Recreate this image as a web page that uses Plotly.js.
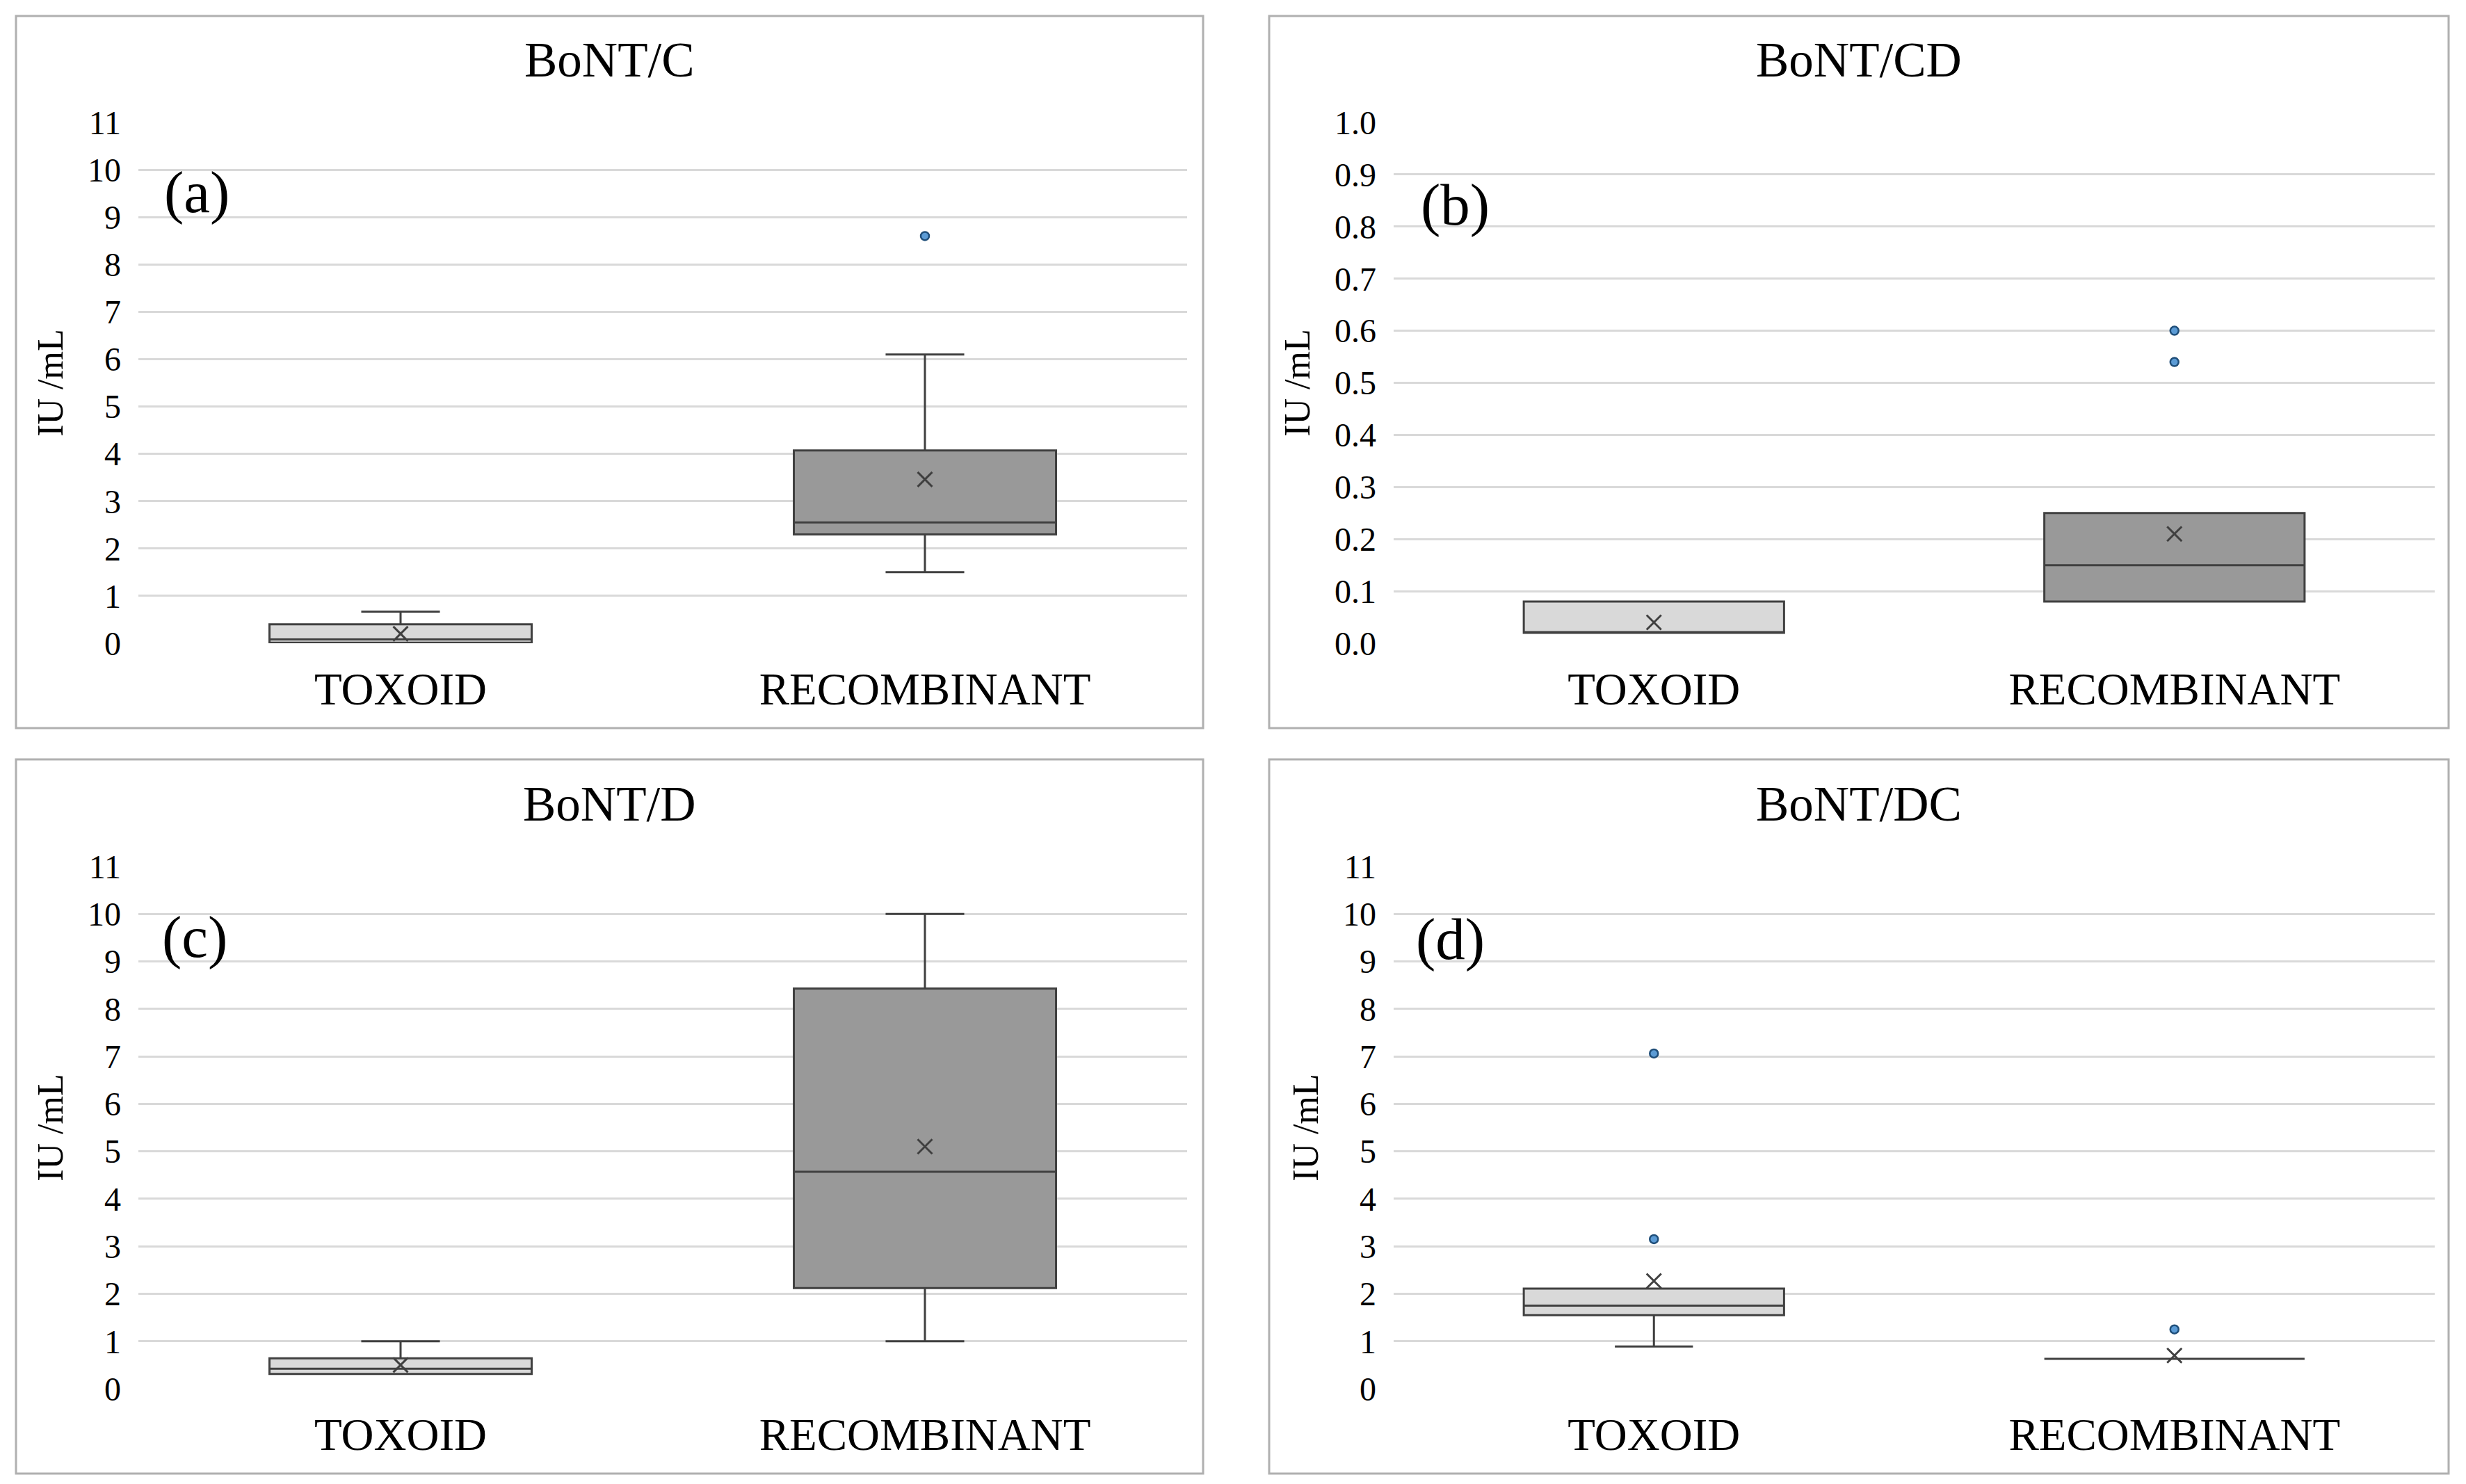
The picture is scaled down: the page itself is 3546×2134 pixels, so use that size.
<!DOCTYPE html>
<html>
<head>
<meta charset="utf-8">
<script src="https://cdn.plot.ly/plotly-3.0.1.min.js"></script>
<style>
html,body{margin:0;padding:0;background:#fff;}
#chart{width:3546px;height:2134px;}
</style>
</head>
<body>
<div id="chart"></div>
<script>
// ---------------- DATA ----------------
const categories = ['TOXOID', 'RECOMBINANT'];
const panelTitles = ['BoNT/C', 'BoNT/CD', 'BoNT/D', 'BoNT/DC'];
const panelLetters = ['(a)', '(b)', '(c)', '(d)'];
const yAxisTitle = 'IU /mL';

// [TOXOID, RECOMBINANT]
const q1_C = [0.01, 2.30];
const median_C = [0.08, 2.55];
const q3_C = [0.40, 4.07];
const lower_C = [0.01, 1.50];
const upper_C = [0.67, 6.10];
const mean_C = [0.20, 3.46];
const outliers_C = [[], [8.60]];

const q1_CD = [0.02, 0.08];
const median_CD = [0.02, 0.15];
const q3_CD = [0.08, 0.25];
const lower_CD = [0.02, 0.08];
const upper_CD = [0.08, 0.25];
const mean_CD = [0.04, 0.21];
const outliers_CD = [[], [0.60, 0.54]];

const q1_D = [0.31, 2.12];
const median_D = [0.42, 4.57];
const q3_D = [0.64, 8.43];
const lower_D = [0.31, 1.00];
const upper_D = [1.00, 10.00];
const mean_D = [0.50, 5.10];
const outliers_D = [[], []];

const q1_DC = [1.55, 0.63];
const median_DC = [1.75, 0.63];
const q3_DC = [2.11, 0.63];
const lower_DC = [0.89, 0.63];
const upper_DC = [2.11, 0.63];
const mean_DC = [2.27, 0.70];
const outliers_DC = [[7.06, 3.15], [1.25]];

const yTicks11 = [0,1,2,3,4,5,6,7,8,9,10,11];
const yTicks1 = [0,0.1,0.2,0.3,0.4,0.5,0.6,0.7,0.8,0.9,1.0];

// ---------------- BUILD ----------------
const W = 3546, H = 2134;
const FONT = '"Liberation Serif", "DejaVu Serif", serif';
const boxFill = ['#d9d9d9', '#999999'];
const lineCol = '#404040';

const panels = [
  {q1:q1_C, med:median_C, q3:q3_C, lo:lower_C, hi:upper_C, mean:mean_C, out:outliers_C, range:[0,11], ticks:yTicks11, fmt:'d'},
  {q1:q1_CD, med:median_CD, q3:q3_CD, lo:lower_CD, hi:upper_CD, mean:mean_CD, out:outliers_CD, range:[0,1], ticks:yTicks1, fmt:'.1f'},
  {q1:q1_D, med:median_D, q3:q3_D, lo:lower_D, hi:upper_D, mean:mean_D, out:outliers_D, range:[0,11], ticks:yTicks11, fmt:'d'},
  {q1:q1_DC, med:median_DC, q3:q3_DC, lo:lower_DC, hi:upper_DC, mean:mean_DC, out:outliers_DC, range:[0,11], ticks:yTicks11, fmt:'d'}
];

// pixel geometry (plot areas and panel frames)
const plotX = [[199,1707],[2004,3501],[199,1707],[2004,3501]];
const plotY = [[176,925],[176,925],[1246,1997],[1246,1997]];
const frameX = [[23,1730],[1825,3521],[23,1730],[1825,3521]];
const frameY = [[23,1047],[23,1047],[1092,2119],[1092,2119]];
const titlePos = [[876,86],[2673,86],[876,1156],[2673,1156]];
const letterPos = [[283,276],[2092,294],[280,1348],[2085,1350]];

const px = v => v / W;
const py = v => 1 - v / H;

const traces = [];
const layout = {
  width: W, height: H,
  margin: {l:0, r:0, t:0, b:0},
  paper_bgcolor: '#ffffff',
  plot_bgcolor: '#ffffff',
  showlegend: false,
  font: {family: FONT, color: '#000000'},
  shapes: [],
  annotations: []
};

panels.forEach((p, i) => {
  const n = i + 1;
  const xa = 'x' + (n === 1 ? '' : n);
  const ya = 'y' + (n === 1 ? '' : n);

  categories.forEach((cat, c) => {
    traces.push({
      type: 'box',
      xaxis: xa, yaxis: ya,
      x: [cat],
      q1: [p.q1[c]], median: [p.med[c]], q3: [p.q3[c]],
      lowerfence: [p.lo[c]], upperfence: [p.hi[c]],
      width: 0.5,
      whiskerwidth: 0.3,
      boxpoints: false,
      fillcolor: boxFill[c],
      line: {color: lineCol, width: 3},
      hoverinfo: 'skip'
    });
    // mean marker
    traces.push({
      type: 'scatter', mode: 'markers',
      xaxis: xa, yaxis: ya,
      x: [cat], y: [p.mean[c]],
      marker: {symbol: 'x-thin', size: 21, line: {color: lineCol, width: 3}},
      hoverinfo: 'skip'
    });
    // outliers
    if (p.out[c].length) {
      traces.push({
        type: 'scatter', mode: 'markers',
        xaxis: xa, yaxis: ya,
        x: p.out[c].map(() => cat), y: p.out[c],
        marker: {symbol: 'circle', size: 12, color: '#5b9bd5', line: {color: '#1f4e79', width: 2.5}},
        hoverinfo: 'skip'
      });
    }
  });

  layout['xaxis' + (n === 1 ? '' : n)] = {
    domain: [px(plotX[i][0]), px(plotX[i][1])],
    anchor: ya,
    type: 'category',
    categoryorder: 'array', categoryarray: categories,
    range: [-0.5, 1.5],
    showgrid: false, zeroline: false, showline: false,
    ticks: '', ticklabelstandoff: 22,
    tickfont: {family: FONT, size: 65, color: '#000'},
    fixedrange: true
  };
  layout['yaxis' + (n === 1 ? '' : n)] = {
    domain: [py(plotY[i][1]), py(plotY[i][0])],
    anchor: xa,
    range: p.range,
    tickmode: 'array', tickvals: p.ticks, tickformat: p.fmt,
    showgrid: true, gridcolor: '#d9d9d9', gridwidth: 3,
    zeroline: false, showline: false,
    ticks: '', ticklabelstandoff: 24,
    tickfont: {family: FONT, size: 48, color: '#000'},
    title: {text: yAxisTitle, font: {family: FONT, size: 52, color: '#000'}, standoff: 18},
    fixedrange: true
  };

  layout.shapes.push({
    type: 'rect', xref: 'paper', yref: 'paper',
    x0: px(frameX[i][0]), x1: px(frameX[i][1]),
    y0: py(frameY[i][1]), y1: py(frameY[i][0]),
    line: {color: '#b0b0b0', width: 3}, fillcolor: 'rgba(0,0,0,0)', layer: 'below'
  });

  layout.annotations.push({
    xref: 'paper', yref: 'paper',
    x: px(titlePos[i][0]), y: py(titlePos[i][1]),
    xanchor: 'center', yanchor: 'middle',
    text: panelTitles[i], showarrow: false,
    font: {family: FONT, size: 71, color: '#000'}
  });
  layout.annotations.push({
    xref: 'paper', yref: 'paper',
    x: px(letterPos[i][0]), y: py(letterPos[i][1]),
    xanchor: 'center', yanchor: 'middle',
    text: panelLetters[i], showarrow: false,
    font: {family: FONT, size: 85, color: '#000'}
  });
});

Plotly.newPlot('chart', traces, layout, {staticPlot: true, displayModeBar: false});
</script>
</body>
</html>
